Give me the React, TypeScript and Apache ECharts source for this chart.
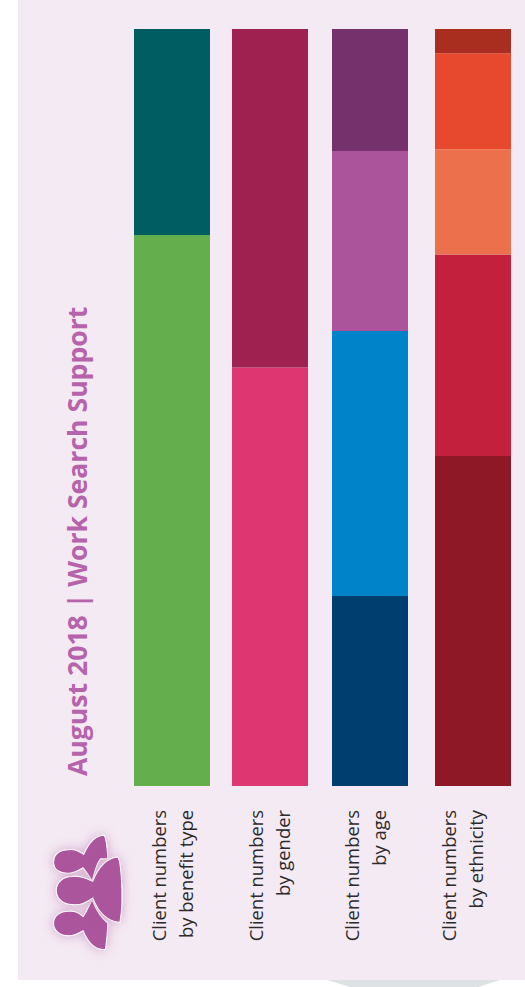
import React, { useEffect, useRef } from "react";
import * as echarts from "echarts";

const titleText = "August 2018 | Work Search Support";
const benefitCategory = "Client numbers\nby benefit type";
const genderCategory = "Client numbers\nby gender";
const ageCategory = "Client numbers\nby age";
const ethnicityCategory = "Client numbers\nby ethnicity";

const benefitValues = [72.8, 27.2];
const benefitColors = ["#65ae4d", "#005e63"];
const genderValues = [55.3, 44.7];
const genderColors = ["#de3670", "#9e2150"];
const ageValues = [25.1, 35.0, 23.8, 16.1];
const ageColors = ["#003e6f", "#0083c9", "#ab549c", "#75316c"];
const ethnicityValues = [43.6, 26.6, 13.9, 12.7, 3.2];
const ethnicityColors = ["#8e1825", "#c2203d", "#ec704c", "#e6492e", "#a92e20"];

const panels = [
  { category: benefitCategory, values: benefitValues, colors: benefitColors, left: 134, width: 76, text: 171.5 },
  { category: genderCategory, values: genderValues, colors: genderColors, left: 232, width: 76, text: 268.5 },
  { category: ageCategory, values: ageValues, colors: ageColors, left: 332, width: 76, text: 365 },
  { category: ethnicityCategory, values: ethnicityValues, colors: ethnicityColors, left: 435, width: 76, text: 461.5 },
];

const PERSON_TOP =
  "M160 245C160 220 180 208 205 208C225 205 240 215 250 222C262 195 280 165 310 165Q318 170 322 235L300 235C285 255 280 285 275 300C265 285 255 270 248 262C235 270 220 278 205 278C180 278 160 268 160 245Z";
const PERSON_BOTTOM =
  "M160 428C160 405 180 392 205 392C225 390 240 400 248 408C258 395 265 375 275 358C285 385 300 410 322 428Q320 470 315 505C285 510 265 490 248 450C235 458 220 465 205 465C180 465 160 450 160 428Z";
const PERSON_MIDDLE =
  "M168 330C168 305 190 288 215 288C240 285 260 295 277 302C290 270 310 235 350 230Q358 232 362 290Q368 370 358 425C320 422 295 400 277 352C260 365 235 375 215 372C190 372 168 355 168 330Z";

echarts.graphic.registerShape("personTop", echarts.graphic.extendPath(PERSON_TOP, {}));
echarts.graphic.registerShape("personBottom", echarts.graphic.extendPath(PERSON_BOTTOM, {}));
echarts.graphic.registerShape("personMiddle", echarts.graphic.extendPath(PERSON_MIDDLE, {}));

export default function App() {
  const ref = useRef<HTMLDivElement>(null);
  useEffect(() => {
    document.body.style.margin = "0";
    document.body.style.background = "#ffffff";
    const chart = echarts.init(ref.current!, undefined, { renderer: "svg" });
    const iconStyle = {
      fill: "#ab549c",
      stroke: "#ffffff",
      lineWidth: 3,
      shadowBlur: 12,
      shadowColor: "rgba(171,84,156,0.45)",
    };
    const s = 1 / 2.987;
    chart.setOption({
      animation: false,
      grid: panels.map((p) => ({ left: p.left, width: p.width, top: 29, height: 757 })),
      xAxis: panels.map((p, i) => ({
        type: "category",
        gridIndex: i,
        data: [p.category],
        axisLine: { show: false },
        axisTick: { show: false },
        axisLabel: { show: false },
      })),
      yAxis: panels.map((_, i) => ({
        type: "value",
        gridIndex: i,
        min: 0,
        max: 100,
        show: false,
      })),
      series: panels.flatMap((p, i) =>
        p.values.map((v, j) => ({
          type: "bar",
          xAxisIndex: i,
          yAxisIndex: i,
          stack: "s" + i,
          barWidth: "100%",
          data: [v],
          itemStyle: { color: p.colors[j] },
          silent: true,
        }))
      ),
      graphic: [
        { type: "rect", z: -10, shape: { x: 18, y: 0, width: 507, height: 980 }, style: { fill: "#f4eaf3" } },
        {
          type: "polygon",
          z: -11,
          shape: { points: [[327, 980], [500, 980], [478, 987], [350, 987]] },
          style: { fill: "#dfe2e4" },
        },
        {
          type: "text",
          x: 90,
          y: 776,
          rotation: Math.PI / 2,
          style: {
            text: titleText,
            font: "bold 26.6px 'Open Sans'",
            fill: "#b564ab",
            textAlign: "left",
            textVerticalAlign: "bottom",
            textBaseline: "alphabetic",
          },
        },
        ...panels.map((p) => ({
          type: "text",
          x: p.text,
          y: 810,
          rotation: Math.PI / 2,
          style: {
            text: p.category,
            font: "400 18.4px 'Open Sans'",
            lineHeight: 27,
            fill: "#2c2a2b",
            textAlign: "right",
            textVerticalAlign: "middle",
            align: "right",
            verticalAlign: "middle",
          },
        })),
        ...["personTop", "personBottom", "personMiddle"].map((name) => ({
          type: name,
          x: 0,
          y: 780,
          scaleX: s,
          scaleY: s,
          style: iconStyle,
        })),
      ],
    });
    return () => chart.dispose();
  }, []);
  return <div ref={ref} style={{ width: 525, height: 987 }} />;
}
